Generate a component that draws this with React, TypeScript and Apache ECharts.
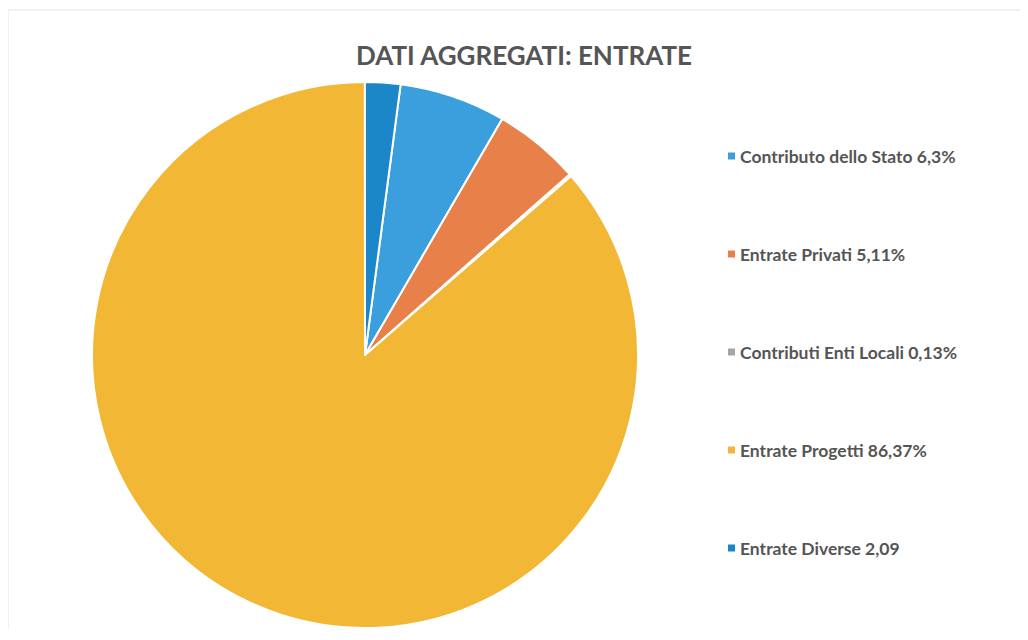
import React, { useEffect, useRef } from "react";
import * as echarts from "echarts";

const categories = [
  "Contributo dello Stato 6,3%",
  "Entrate Privati 5,11%",
  "Contributi Enti Locali 0,13%",
  "Entrate Progetti 86,37%",
  "Entrate Diverse 2,09",
];
const values = [6.3, 5.11, 0.13, 86.37, 2.09];
const colors = ["#3a9fdc", "#e8804a", "#a5a5a5", "#f2b735", "#1b87c9"];

export default function App() {
  const ref = useRef<HTMLDivElement>(null);
  useEffect(() => {
    const chart = echarts.init(ref.current!, undefined, { renderer: "svg" });
    chart.setOption({
      animation: false,
      backgroundColor: "#ffffff",
      title: {
        text: "DATI AGGREGATI: ENTRATE",
        left: 511,
        top: 29,
        textAlign: "center",
        textStyle: {
          fontFamily: "Lato",
          fontWeight: 700,
          fontSize: 26,
          color: "#555555",
        },
      },
      graphic: [
        {
          type: "polyline",
          shape: { points: [[0, 620], [0, 2], [1012, 2]] },
          style: { stroke: "#e2e2e2", lineWidth: 1, fill: "none" },
        },
      ],
      legend: {
        orient: "vertical",
        left: 715,
        top: 133,
        itemWidth: 7,
        itemHeight: 7,
        itemGap: 78,
        itemStyle: { borderWidth: 0 },
        icon: "rect",
        data: categories,
        textStyle: {
          fontFamily: "Lato",
          fontWeight: 700,
          fontSize: 17.5,
          color: "#555555",
          lineHeight: 20,
          padding: [0, 0, 0, 0],
        },
      },
      series: [
        {
          type: "pie",
          center: [357, 347],
          radius: 273,
          startAngle: 82.5,
          clockwise: true,
          label: { show: false },
          labelLine: { show: false },
          emphasis: { disabled: true },
          itemStyle: { borderColor: "#ffffff", borderWidth: 2 },
          data: categories.map((name, i) => ({
            name,
            value: values[i],
            itemStyle: { color: colors[i] },
          })),
        },
      ],
    });
    return () => chart.dispose();
  }, []);
  return <div ref={ref} style={{ width: 1012, height: 624 }} />;
}
